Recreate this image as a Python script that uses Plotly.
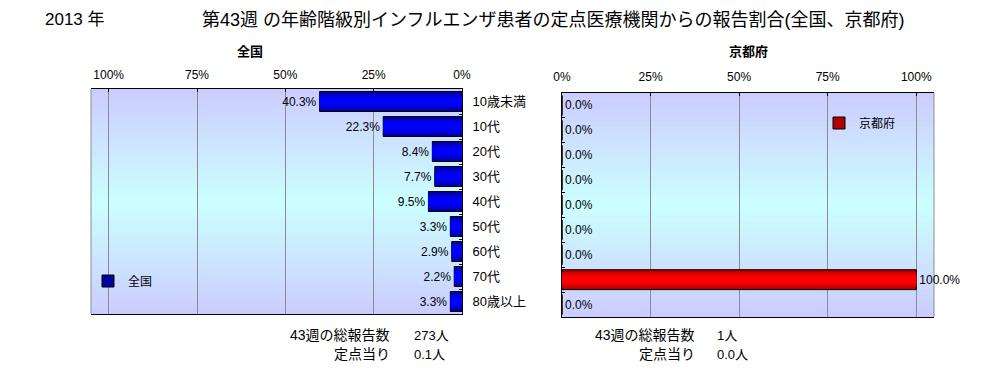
import plotly.graph_objects as go

# ---------------- data ----------------
categories = ["10歳未満", "10代", "20代", "30代", "40代", "50代", "60代", "70代", "80歳以上"]
national_pct = [40.3, 22.3, 8.4, 7.7, 9.5, 3.3, 2.9, 2.2, 3.3]
kyoto_pct = [0.0, 0.0, 0.0, 0.0, 0.0, 0.0, 0.0, 100.0, 0.0]
tick_vals = [0, 25, 50, 75, 100]
tick_text = ["0%", "25%", "50%", "75%", "100%"]
year_label = "2013 年"
main_title = "第43週 の年齢階級別インフルエンザ患者の定点医療機関からの報告割合(全国、京都府)"
panel_titles = ["全国", "京都府"]
summary_labels = ["43週の総報告数", "定点当り"]
national_summary = ["273人", "0.1人"]
kyoto_summary = ["1人", "0.0人"]

# page body has an 8px margin on every side -> figure sits at (8, 8)
OFF = 8
W, H = 1002 - 2 * OFF, 372 - 2 * OFF
FONT = "Liberation Sans, Arial, Noto Sans CJK JP, sans-serif"


def px_x(v):
    return (v - OFF) / W


def px_y(v):
    return 1 - (v - OFF) / H


fig = go.Figure()

blue_layers = [("#0000a0", 0.8), ("#0000c8", 0.62), ("#0000e8", 0.44), ("#0000ff", 0.26)]
red_layers = [("#b00000", 0.8), ("#d00000", 0.62), ("#ec0000", 0.44), ("#ff0000", 0.26)]

for i, (col, w) in enumerate(blue_layers):
    fig.add_trace(go.Bar(
        x=national_pct, y=categories, orientation="h",
        xaxis="x", yaxis="y", name="全国",
        width=[w] * len(categories),
        marker=dict(color=col, line=dict(color="black", width=1 if i == 0 else 0)),
        showlegend=(i == 0), legend="legend",
        text=[f"{v:.1f}%" for v in national_pct] if i == 0 else None,
        textposition="outside" if i == 0 else "none",
        textfont=dict(family=FONT, size=12, color="black"),
        cliponaxis=False, hoverinfo="x+y" if i == 0 else "skip",
    ))

for i, (col, w) in enumerate(red_layers):
    fig.add_trace(go.Bar(
        x=kyoto_pct, y=categories, orientation="h",
        xaxis="x2", yaxis="y2", name="京都府",
        width=[w] * len(categories),
        marker=dict(color=col, line=dict(color="black", width=1 if i == 0 else 0)),
        showlegend=(i == 0), legend="legend2",
        text=[f"{v:.1f}%" for v in kyoto_pct] if i == 0 else None,
        textposition="outside" if i == 0 else "none",
        textfont=dict(family=FONT, size=12, color="black"),
        cliponaxis=False, hoverinfo="x+y" if i == 0 else "skip",
    ))

# plot-area geometry (page pixels)
L_dom = [px_x(91), px_x(462)]
L_ydom = [px_y(314), px_y(89)]
R_dom = [px_x(562), px_x(934)]
R_ydom = [px_y(317), px_y(93)]

common_x = dict(
    tickvals=tick_vals, ticktext=tick_text, side="top",
    showgrid=True, gridcolor="#8c8c8c", gridwidth=1, zeroline=False,
    showline=True, linecolor="black", linewidth=1, mirror=True,
    ticks="inside", ticklen=3, tickcolor="black",
    tickfont=dict(family=FONT, size=12, color="black"),
    fixedrange=True, automargin=False,
)
common_y = dict(
    autorange="reversed", showgrid=False, zeroline=False,
    showline=True, linecolor="black", linewidth=1,
    ticks="inside", ticklen=3, tickcolor="black", tickson="boundaries",
    tickfont=dict(family=FONT, size=13, color="black"),
    fixedrange=True, automargin=False,
)

fig.update_layout(
    width=W, height=H,
    margin=dict(l=0, r=0, t=0, b=0, autoexpand=False),
    paper_bgcolor="white", plot_bgcolor="rgba(0,0,0,0)",
    barmode="overlay",
    font=dict(family=FONT, color="black"),
    xaxis=dict(common_x, domain=L_dom, range=[105, 0], anchor="y", ticklabelstandoff=4),
    yaxis=dict(common_y, domain=L_ydom, side="right", anchor="x", ticklabelstandoff=7),
    xaxis2=dict(common_x, domain=R_dom, range=[0, 105], anchor="y2", ticklabelstandoff=6),
    yaxis2=dict(common_y, domain=R_ydom, side="left", anchor="x2", showticklabels=False),
    legend=dict(x=px_x(88), y=px_y(281), xanchor="left", yanchor="middle",
                bgcolor="rgba(0,0,0,0)", font=dict(family=FONT, size=12),
                itemwidth=30, tracegroupgap=0),
    legend2=dict(x=px_x(819), y=px_y(123), xanchor="left", yanchor="middle",
                 bgcolor="rgba(0,0,0,0)", font=dict(family=FONT, size=12),
                 itemwidth=30, tracegroupgap=0),
    showlegend=True,
)

# background gradient bands (lavender -> pale cyan -> lavender)
def lerp(c1, c2, t):
    return tuple(round(a + (b - a) * t) for a, b in zip(c1, c2))

top_c = (204, 204, 255)
mid_c = (204, 255, 255)
N = 40
shapes = []
for xr, yr in (("x", "y"), ("x2", "y2")):
    for k in range(N):
        t0 = k / N
        t1 = (k + 1) / N
        tm = (t0 + t1) / 2
        f = 1 - abs(tm - 0.5) * 2
        c = lerp(top_c, mid_c, f)
        shapes.append(dict(
            type="rect", xref=f"{xr} domain", yref=f"{yr} domain",
            x0=0, x1=1, y0=t0, y1=min(1.0, t1 + 0.01), layer="below",
            fillcolor=f"rgb{c}", line=dict(width=0),
        ))
# grey outer edges of plot areas
shapes.append(dict(type="line", xref="x domain", yref="y domain", x0=0, x1=0, y0=0, y1=1,
                   line=dict(color="#8c8c8c", width=1), layer="below"))
shapes.append(dict(type="line", xref="x2 domain", yref="y2 domain", x0=1, x1=1, y0=0, y1=1,
                   line=dict(color="#8c8c8c", width=1), layer="below"))
fig.update_layout(shapes=shapes)

ann = []
ann.append(dict(text=year_label, x=px_x(43), y=1, xanchor="left", yanchor="top",
                font=dict(size=17)))
ann.append(dict(text=main_title, x=px_x(200), y=1, xanchor="left", yanchor="top",
                font=dict(size=18)))
ann.append(dict(text=f"<b>{panel_titles[0]}</b>", x=px_x(250), y=px_y(52),
                xanchor="center", yanchor="middle", font=dict(size=13)))
ann.append(dict(text=f"<b>{panel_titles[1]}</b>", x=px_x(748), y=px_y(52),
                xanchor="center", yanchor="middle", font=dict(size=13)))
rows = [(px_y(335), "middle"), (0, "bottom")]
for lab, val, (yy, ya) in zip(summary_labels, national_summary, rows):
    ann.append(dict(text=lab, x=px_x(392), y=yy, xanchor="right", yanchor=ya,
                    font=dict(size=14)))
    ann.append(dict(text=val, x=px_x(412), y=yy, xanchor="left", yanchor=ya,
                    font=dict(size=13)))
for lab, val, (yy, ya) in zip(summary_labels, kyoto_summary, rows):
    ann.append(dict(text=lab, x=px_x(697), y=yy, xanchor="right", yanchor=ya,
                    font=dict(size=14)))
    ann.append(dict(text=val, x=px_x(715), y=yy, xanchor="left", yanchor=ya,
                    font=dict(size=13)))
for a in ann:
    a.update(xref="paper", yref="paper", showarrow=False)
fig.update_layout(annotations=ann)

fig.write_html("out.html")
